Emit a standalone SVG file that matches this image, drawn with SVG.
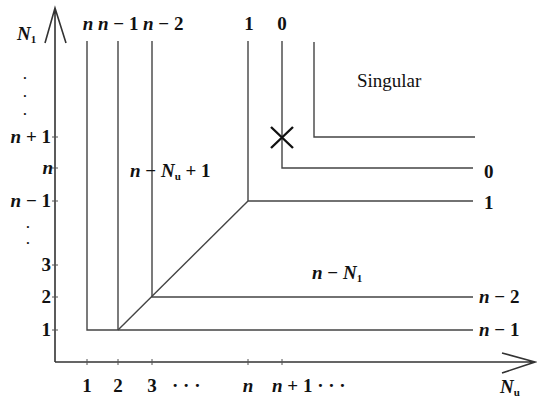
<svg xmlns="http://www.w3.org/2000/svg" width="537" height="398" viewBox="0 0 537 398">
<style>
.ax{stroke:#333;stroke-width:1.6;fill:none}
.ln{stroke:#444;stroke-width:1.4;fill:none}
.tk{stroke:#555;stroke-width:1}
text{font-family:"Liberation Serif","Times New Roman",serif;font-size:19px;fill:#111;font-weight:bold}
.i{font-style:italic}
.sub{font-size:11px}
.r{text-anchor:end}
.m{text-anchor:middle}
.dot{font-size:13px;font-weight:900}
.plain{font-weight:normal}
</style>
<rect width="537" height="398" fill="#fff"/>
<g id="axes">
<path class="ax" d="M55,362 V8 M45,43 L55,8 L66,43"/>
<path class="ax" d="M55,362 H535 M502,353 L535,362 L502,373"/>
<path class="tk" d="M52,137 H58 M52,168 H58 M52,201 H58 M52,265 H58 M52,297 H58 M52,330 H58 M87,359 V365 M118,359 V365 M152,359 V365 M248,359 V365 M282,359 V365"/>
</g>
<g id="connectors">
<path class="ln" d="M87,41 V330 H473"/>
<path class="ln" d="M118,41 V330"/>
<path class="ln" d="M152,41 V297 H473"/>
<path class="ln" d="M118,330 L248,201"/>
<path class="ln" d="M248,41 V201 H473"/>
<path class="ln" d="M282,41 V168 H473"/>
<path class="ln" d="M314,42 V137 H475"/>
<path d="M271,127 L293,148 M293,127 L271,148" stroke="#111" stroke-width="2.4"/>
</g>
<g id="top-labels">
<text class="i m" x="88" y="30">n</text>
<text x="98" y="30"><tspan class="i">n</tspan> − 1</text>
<text x="143" y="30"><tspan class="i">n</tspan> − 2</text>
<text class="m" x="249" y="30">1</text>
<text class="m" x="282" y="30">0</text>
</g>
<g id="y-label"><text class="i" x="17" y="40">N<tspan class="sub" dy="3" font-style="normal">1</tspan></text></g>
<g id="left-labels">
<text class="m dot" x="25" y="82">·</text>
<text class="m dot" x="25" y="100">·</text>
<text class="m dot" x="25" y="118">·</text>
<text class="r" x="51" y="143"><tspan class="i">n</tspan> + 1</text>
<text class="r i" x="53" y="174">n</text>
<text class="r" x="51" y="207"><tspan class="i">n</tspan> − 1</text>
<text class="m dot" x="28" y="231">·</text>
<text class="m dot" x="28" y="247">·</text>
<text class="r" x="51" y="271">3</text>
<text class="r" x="51" y="303">2</text>
<text class="r" x="51" y="336">1</text>
</g>
<g id="bottom-labels">
<text class="m" x="87" y="392">1</text>
<text class="m" x="118" y="392">2</text>
<text class="m" x="152" y="392">3</text>
<text x="172" y="392">·  ·  ·</text>
<text class="i m" x="248" y="392">n</text>
<text x="272" y="392"><tspan class="i">n</tspan> + 1  ·  ·  ·</text>
<text class="i" x="500" y="393">N<tspan class="sub" dy="3" font-style="normal">u</tspan></text>
</g>
<g id="right-labels">
<text x="484" y="178">0</text>
<text x="484" y="209">1</text>
<text x="479" y="303"><tspan class="i">n</tspan> − 2</text>
<text x="479" y="336"><tspan class="i">n</tspan> − 1</text>
</g>
<g id="region-labels">
<text class="plain" x="357" y="87">Singular</text>
<text x="130" y="177"><tspan class="i">n</tspan> − <tspan class="i">N</tspan><tspan class="sub" dy="3">u</tspan><tspan dy="-3"> + 1</tspan></text>
<text x="312" y="279"><tspan class="i">n</tspan> − <tspan class="i">N</tspan><tspan class="sub" dy="3">1</tspan></text>
</g>
</svg>
